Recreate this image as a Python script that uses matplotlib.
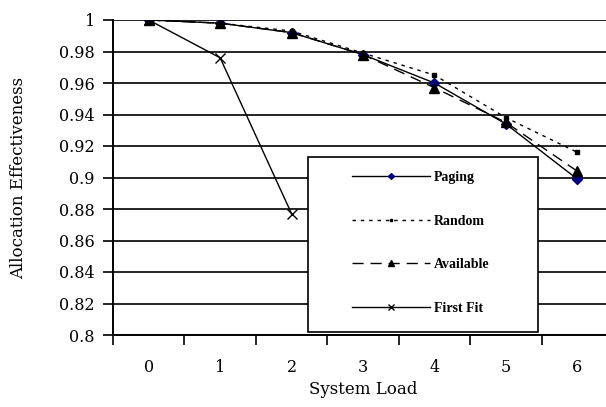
import matplotlib
matplotlib.use("Agg")
import matplotlib.pyplot as plt
from matplotlib.patches import Rectangle

loads = [0, 1, 2, 3, 4, 5, 6]
x_labels = ["0", "1", "2", "3", "4", "5", "6"]
paging = [1.000, 0.998, 0.992, 0.978, 0.960, 0.934, 0.899]
random_ = [1.000, 0.998, 0.993, 0.979, 0.965, 0.938, 0.916]
available = [1.000, 0.998, 0.992, 0.978, 0.957, 0.935, 0.904]
firstfit_x = [0, 1, 2]
firstfit = [1.000, 0.976, 0.877]
y_ticks = [0.8, 0.82, 0.84, 0.86, 0.88, 0.9, 0.92, 0.94, 0.96, 0.98, 1.0]
y_tick_labels = ["0.8", "0.82", "0.84", "0.86", "0.88", "0.9", "0.92", "0.94", "0.96", "0.98", "1"]

W, H = 606, 407
fig = plt.figure(figsize=(W / 100, H / 100), dpi=100)
ax = fig.add_axes([113 / W, 72 / H, 500 / W, 315 / H])

serif = ["DejaVu Serif"]

ax.plot(loads, paging, color="black", lw=1.0, marker="D", ms=5,
        mfc="#000080", mec="#000080", label="Paging", zorder=3)
ax.plot(loads, random_, color="black", lw=1.0, ls=(0, (2.5, 3.5)), marker="s", ms=3,
        mfc="black", mec="black", label="Random", zorder=3)
ax.plot(loads, available, color="black", lw=1.0, ls=(0, (8, 5)), marker="^", ms=7,
        mfc="black", mec="black", label="Available", zorder=3)
ax.plot(firstfit_x, firstfit, color="black", lw=1.0, marker="x", ms=7, mew=1.0,
        label="First Fit", zorder=3)

ax.set_xlim(-0.5, 6.5)
ax.set_ylim(0.8, 1.0)
ax.set_yticks(y_ticks)
ax.set_yticklabels(y_tick_labels, fontfamily=serif, fontsize=11.5)
ax.set_xticks(loads)
ax.set_xticklabels(x_labels, fontfamily=serif, fontsize=11.5)
ax.set_xticks([k - 0.5 for k in range(8)], minor=True)
ax.tick_params(axis="x", which="major", length=0, pad=17)
ax.tick_params(axis="x", which="minor", length=7, width=1.2, direction="out")
ax.tick_params(axis="y", which="major", length=7, width=1.2, direction="out", pad=6)
ax.yaxis.grid(True, color="black", lw=1.2)
ax.set_axisbelow(True)
for s in ["top", "right"]:
    ax.spines[s].set_visible(False)
for s in ["left", "bottom"]:
    ax.spines[s].set_linewidth(1.4)

ax.set_xlabel("System Load", fontfamily=serif, fontsize=12, labelpad=4)
ax.set_ylabel("Allocation Effectiveness", fontfamily=serif, fontsize=12, labelpad=23)

rect = Rectangle((308 / W, 1 - 332 / H), 230 / W, 175 / H, transform=fig.transFigure,
                 facecolor="white", edgecolor="black", lw=1.2, zorder=4)
fig.patches.append(rect)

leg = fig.legend(loc="upper left", bbox_to_anchor=(352 / W, 1 - 171 / H),
                 frameon=False, borderpad=0, borderaxespad=0, markerscale=0.6,
                 handlelength=5.6, handletextpad=0.3, labelspacing=2.2,
                 prop={"family": "Liberation Serif", "size": 10, "weight": "bold"})
leg.set_zorder(5)

fig.savefig("out.png", dpi=100)
